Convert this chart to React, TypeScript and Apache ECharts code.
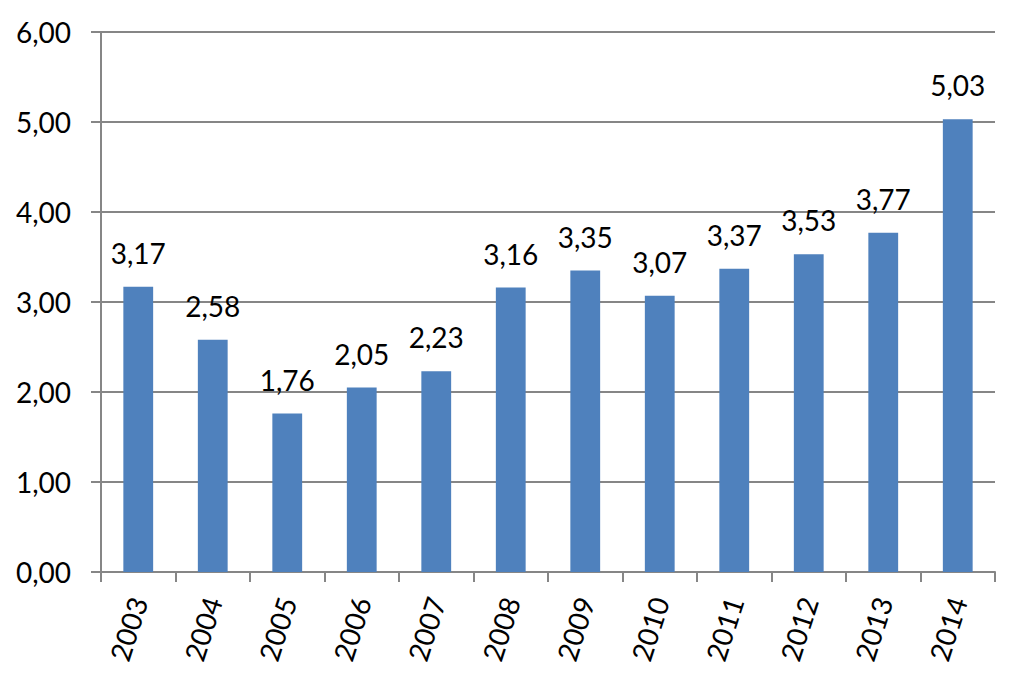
import React, { useEffect, useRef } from "react";
import * as echarts from "echarts";

const years = ["2003", "2004", "2005", "2006", "2007", "2008", "2009", "2010", "2011", "2012", "2013", "2014"];
const values = [3.17, 2.58, 1.76, 2.05, 2.23, 3.16, 3.35, 3.07, 3.37, 3.53, 3.77, 5.03];

const fmt = (v: number) => v.toFixed(2).replace(".", ",");

export default function App() {
  const ref = useRef<HTMLDivElement>(null);
  useEffect(() => {
    if (!ref.current) return;
    const chart = echarts.init(ref.current, null, { renderer: "svg" });
    const font = "Lato";
    chart.setOption({
      animation: false,
      backgroundColor: "#ffffff",
      grid: { left: 101, right: 29, top: 32, bottom: 113, containLabel: false },
      xAxis: {
        type: "category",
        data: years,
        axisLine: { lineStyle: { color: "#868686", width: 2 } },
        axisTick: { show: true, length: 10, lineStyle: { color: "#868686", width: 2 } },
        axisLabel: {
          rotate: 72,
          fontFamily: font,
          fontSize: 28,
          color: "#000",
          margin: 26,
          interval: 0,
        },
      },
      yAxis: {
        type: "value",
        min: 0,
        max: 6,
        interval: 1,
        axisLine: { show: true, lineStyle: { color: "#868686", width: 2 } },
        axisTick: { show: true, length: 10, lineStyle: { color: "#868686", width: 2 } },
        splitLine: { lineStyle: { color: "#868686", width: 2 } },
        axisLabel: {
          formatter: (v: number) => fmt(v),
          fontFamily: font,
          fontSize: 28,
          color: "#000",
          margin: 30,
        },
      },
      series: [
        {
          type: "bar",
          data: values,
          barWidth: "40%",
          itemStyle: { color: "#4F81BD" },
          label: {
            show: true,
            position: "top",
            distance: 20,
            formatter: (p: any) => fmt(p.value),
            fontFamily: font,
            fontSize: 28,
            color: "#000",
          },
        },
      ],
    });
    return () => chart.dispose();
  }, []);
  return (
    <div
      ref={ref}
      style={{ position: "absolute", left: 0, top: 0, width: 1024, height: 685, background: "#fff" }}
    />
  );
}
